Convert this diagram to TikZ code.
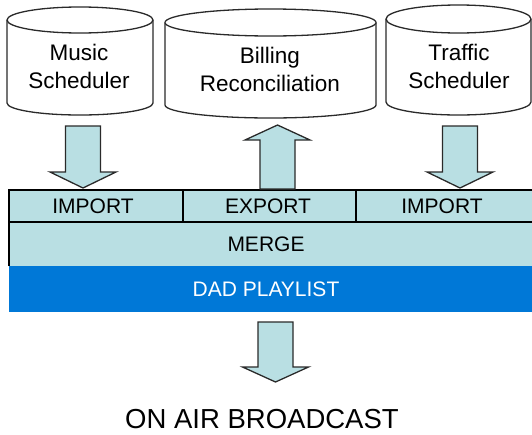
\documentclass[tikz,border=0pt]{standalone}
\usepackage{fontspec}
\setmainfont{Liberation Sans}
\definecolor{paleblue}{HTML}{B9DFE3}
\definecolor{dadblue}{HTML}{0078D7}
\definecolor{edge}{HTML}{2A2A2A}
\begin{document}
\begin{tikzpicture}[x=1pt,y=-1pt,
  cyl/.style={draw=edge,line width=1.3pt,fill=white},
  blockarrow/.style={draw=edge,line width=1.3pt,fill=paleblue,line join=miter},
  lbl/.style={font=\fontsize{22.5}{28}\selectfont,align=center,text=black,inner sep=0},
  tlbl/.style={font=\fontsize{21}{24}\selectfont,inner sep=0},
  big/.style={font=\fontsize{27.5}{30}\selectfont,inner sep=0}]
\useasboundingbox (0,0) rectangle (532,434);
% cylinders: x1 x2 top-center ry-top bottom-center ry-bottom
\newcommand{\mycyl}[6]{%
  \draw[cyl] (#1,#3) -- (#1,#5) arc[start angle=180,end angle=0,x radius={(#2-#1)/2},y radius=#6]
     -- (#2,#3) arc[start angle=0,end angle=-180,x radius={(#2-#1)/2},y radius=#4] -- cycle;
  \draw[cyl] (#1,#3) arc[start angle=180,end angle=0,x radius={(#2-#1)/2},y radius=#4];}
\mycyl{7}{153}{20}{13}{103}{12}
\mycyl{165}{376}{22.5}{13.5}{105}{13}
\mycyl{386}{531}{19}{14}{102}{13}
\node[lbl] (music) at (79,66) {Music\\Scheduler};
\node[lbl] (billing) at (270,69) {Billing\\Reconciliation};
\node[lbl] (traffic) at (459,66) {Traffic\\Scheduler};
% table
\fill[dadblue] (9,266) rectangle (532,312);
\fill[paleblue] (9,190) rectangle (532,266);
\draw[black,line width=1.2pt] (9,266) -- (9,190) -- (533,190);
\draw[black,line width=1.2pt] (9,222) -- (533,222);
\draw[black,line width=1.2pt] (183,190) -- (183,222);
\draw[black,line width=1.2pt] (356,190) -- (356,222);
\node[tlbl] (imp1) at (93,206) {IMPORT};
\node[tlbl] (exp) at (268,206) {EXPORT};
\node[tlbl] (imp2) at (442,206) {IMPORT};
\node[tlbl] (merge) at (266,244) {MERGE};
\node[tlbl,text=white] (dad) at (266,289) {DAD PLAYLIST};
% block arrows
\newcommand{\dnarrow}[5]{% cx, shaft top, head base, tip, half shaft ; half head=33
  \draw[blockarrow] (#1-#5,#2) -- (#1+#5,#2) -- (#1+#5,#3) -- (#1+33,#3) -- (#1,#4) -- (#1-33,#3) -- (#1-#5,#3) -- cycle;}
\dnarrow{83}{126}{172}{188}{17.5}
\dnarrow{460}{126}{172}{188}{17.5}
\dnarrow{275.5}{322}{367}{382}{17.5}
\draw[blockarrow] (260,189) -- (295,189) -- (295,140) -- (310,140) -- (277.5,125) -- (245,140) -- (260,140) -- cycle;
\node[big] (air) at (262,419) {ON AIR BROADCAST};
\end{tikzpicture}
\end{document}
